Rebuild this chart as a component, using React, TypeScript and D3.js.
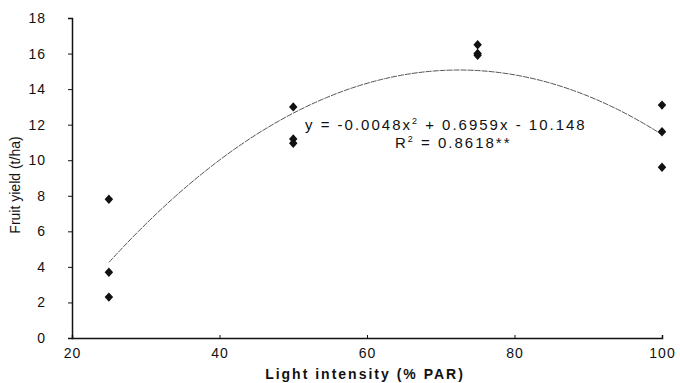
import { useEffect, useRef } from 'react';
import * as d3 from 'd3';

const xLevels = [25, 25, 25, 50, 50, 50, 75, 75, 75, 100, 100, 100];
const yields = [7.8, 3.7, 2.3, 13.0, 11.2, 10.95, 16.5, 16.0, 15.9, 13.1, 11.6, 9.6];
const xTicks = [20, 40, 60, 80, 100];
const yTicks = [0, 2, 4, 6, 8, 10, 12, 14, 16, 18];
const coef = [-0.0048, 0.6959, -10.148];

export default function App() {
  const svgRef = useRef<SVGSVGElement>(null);
  const width = 680;
  const height = 383;

  useEffect(() => {
    if (!svgRef.current) return;
    const svg = d3.select(svgRef.current);
    svg.selectAll('*').remove();

    const x = d3.scaleLinear().domain([20, 100]).range([72, 662]);
    const y = d3.scaleLinear().domain([0, 18]).range([338, 18]);
    const font = 'Liberation Sans, Arial, sans-serif';

    // Axes
    const xAxis = svg.append('g')
      .attr('transform', `translate(0,${y(0)})`)
      .call(d3.axisBottom(x).tickValues(xTicks).tickSize(-3).tickPadding(10));
    xAxis.select('.domain').attr('stroke', '#111').attr('stroke-width', 1.5);
    xAxis.selectAll('.tick line').attr('stroke', '#111');
    xAxis.selectAll('text')
      .style('font-family', font)
      .style('font-size', '14px')
      .style('letter-spacing', '1px')
      .style('fill', '#111');

    const yAxis = svg.append('g')
      .attr('transform', `translate(${x(20)},0)`)
      .call(d3.axisLeft(y).tickValues(yTicks).tickSize(4).tickPadding(22));
    yAxis.select('.domain').attr('stroke', '#111').attr('stroke-width', 1.5);
    yAxis.selectAll('.tick line').attr('stroke', '#111');
    yAxis.selectAll('text')
      .style('font-family', font)
      .style('font-size', '14px')
      .style('letter-spacing', '1px')
      .style('fill', '#111');

    // Fitted curve
    const fit = (v: number) => coef[0] * v * v + coef[1] * v + coef[2];
    const xs = d3.range(25, 100.01, 0.5);
    svg.append('path')
      .datum(xs)
      .attr('fill', 'none')
      .attr('stroke', '#555')
      .attr('stroke-width', 1)
      .attr('stroke-dasharray', '6,1')
      .attr('d', d3.line<number>().x(d => x(d)).y(d => y(fit(d))).curve(d3.curveBasis));

    // Points
    const diamond = d3.symbol().type(d3.symbolDiamond).size(40);
    svg.selectAll('.pt')
      .data(xLevels.map((v, i) => [v, yields[i]]))
      .enter()
      .append('path')
      .attr('class', 'pt')
      .attr('transform', d => `translate(${x(d[0])},${y(d[1])}) scale(1.25,0.8)`)
      .attr('d', diamond)
      .attr('fill', '#111');

    // Equation
    svg.append('text')
      .attr('x', 305)
      .attr('y', 130)
      .style('font-family', font)
      .style('font-size', '15px')
      .style('letter-spacing', '2px')
      .style('fill', '#111')
      .html('y = -0.0048x<tspan dy="-6" font-size="9">2</tspan><tspan dy="6"> + 0.6959x - 10.148</tspan>');

    svg.append('text')
      .attr('x', 395)
      .attr('y', 148)
      .style('font-family', font)
      .style('font-size', '15px')
      .style('letter-spacing', '2px')
      .style('fill', '#111')
      .html('R<tspan dy="-6" font-size="9">2</tspan><tspan dy="6"> = 0.8618**</tspan>');

    // Axis titles
    svg.append('text')
      .attr('x', 365)
      .attr('y', 379)
      .attr('text-anchor', 'middle')
      .style('font-family', font)
      .style('font-size', '14px')
      .style('font-weight', 'bold')
      .style('letter-spacing', '2px')
      .style('fill', '#111')
      .text('Light intensity (% PAR)');

    svg.append('text')
      .attr('transform', `translate(20,185) rotate(-90)`)
      .attr('text-anchor', 'middle')
      .style('font-family', font)
      .style('font-size', '14px')
      .style('fill', '#111')
      .text('Fruit yield (t/ha)');
  }, []);

  return (
    <svg
      ref={svgRef}
      width={width}
      height={height}
      style={{ position: 'absolute', left: 0, top: 0, background: '#fff' }}
    />
  );
}
